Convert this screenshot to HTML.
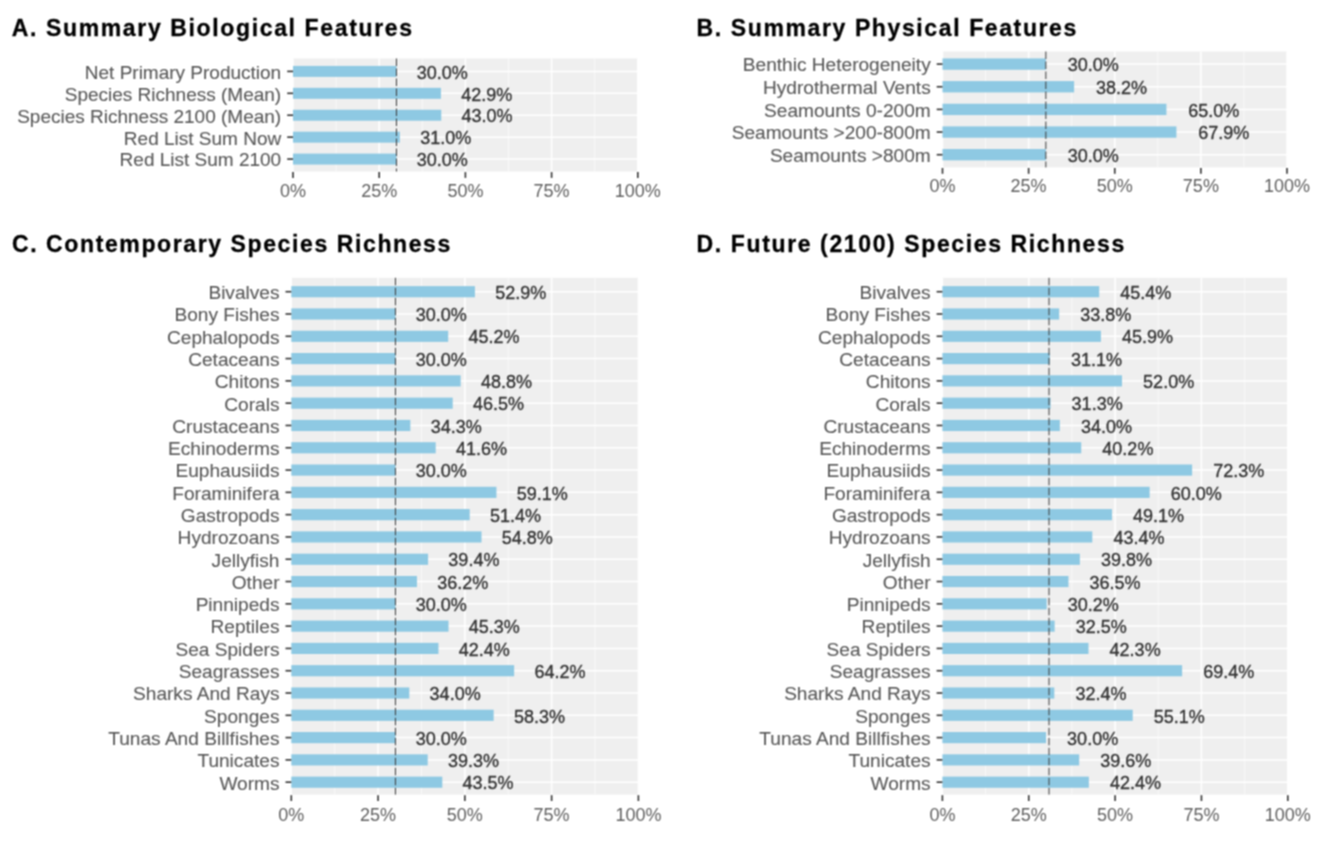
<!DOCTYPE html>
<html><head><meta charset="utf-8"><title>Summary Features</title>
<style>
html,body{margin:0;padding:0;background:#fff;}
body{width:1322px;height:844px;overflow:hidden;}
svg{display:block;}
text{font-family:"Liberation Sans", Arial, Helvetica, sans-serif;}
.tt{font-size:23px;font-weight:bold;fill:#000;stroke:#000;stroke-width:0.3px;}
.yl{font-size:19.1px;fill:#585858;text-anchor:end;stroke:#585858;stroke-width:0.1px;}
.xl{font-size:18.0px;fill:#5f5f5f;text-anchor:middle;}
.vl{font-size:18.0px;fill:#333333;stroke:#333333;stroke-width:0.35px;}
</style></head>
<body>
<svg width="1322" height="844" viewBox="0 0 1322 844">
<defs><filter id="soft" x="0" y="0" width="1322" height="844" filterUnits="userSpaceOnUse" color-interpolation-filters="sRGB"><feConvolveMatrix order="3" kernelMatrix="1 2 1 2 4 2 1 2 1" divisor="16" edgeMode="duplicate"/></filter></defs>
<g filter="url(#soft)">
<rect width="1322" height="844" fill="#fff"/>
<text class="tt" x="11.75" y="36.2" textLength="400.2" lengthAdjust="spacing">A. Summary Biological Features</text>
<rect x="293" y="58.5" width="344.8" height="113" fill="#EFEFEF"/>
<line x1="336.1" y1="58.5" x2="336.1" y2="171.5" stroke="#fff" stroke-width="0.6"/>
<line x1="422.3" y1="58.5" x2="422.3" y2="171.5" stroke="#fff" stroke-width="0.6"/>
<line x1="508.5" y1="58.5" x2="508.5" y2="171.5" stroke="#fff" stroke-width="0.6"/>
<line x1="594.7" y1="58.5" x2="594.7" y2="171.5" stroke="#fff" stroke-width="0.6"/>
<line x1="293" y1="58.5" x2="293" y2="171.5" stroke="#fff" stroke-width="1.5"/>
<line x1="379.2" y1="58.5" x2="379.2" y2="171.5" stroke="#fff" stroke-width="1.5"/>
<line x1="465.4" y1="58.5" x2="465.4" y2="171.5" stroke="#fff" stroke-width="1.5"/>
<line x1="551.6" y1="58.5" x2="551.6" y2="171.5" stroke="#fff" stroke-width="1.5"/>
<line x1="637.8" y1="58.5" x2="637.8" y2="171.5" stroke="#fff" stroke-width="1.5"/>
<line x1="293" y1="71.4" x2="637.8" y2="71.4" stroke="#fff" stroke-width="1.5"/>
<line x1="293" y1="93.32" x2="637.8" y2="93.32" stroke="#fff" stroke-width="1.5"/>
<line x1="293" y1="115.24" x2="637.8" y2="115.24" stroke="#fff" stroke-width="1.5"/>
<line x1="293" y1="137.16" x2="637.8" y2="137.16" stroke="#fff" stroke-width="1.5"/>
<line x1="293" y1="159.08" x2="637.8" y2="159.08" stroke="#fff" stroke-width="1.5"/>
<rect x="293" y="65.92" width="103.44" height="10.96" fill="#8EC9E3"/>
<rect x="293" y="87.84" width="147.92" height="10.96" fill="#8EC9E3"/>
<rect x="293" y="109.76" width="148.26" height="10.96" fill="#8EC9E3"/>
<rect x="293" y="131.68" width="106.89" height="10.96" fill="#8EC9E3"/>
<rect x="293" y="153.6" width="103.44" height="10.96" fill="#8EC9E3"/>
<line x1="396.44" y1="58.5" x2="396.44" y2="171.5" stroke="#3a3a3a" stroke-width="1.0" stroke-dasharray="7.5 2.5"/>
<text class="vl" x="416.74" y="78.6">30.0%</text>
<text class="yl" x="281.2" y="78.75" style="font-size:19.0px">Net Primary Production</text>
<line x1="287.2" y1="71.4" x2="293" y2="71.4" stroke="#333333" stroke-width="1.6"/>
<text class="vl" x="461.22" y="100.52">42.9%</text>
<text class="yl" x="281.2" y="100.67" style="font-size:19.0px">Species Richness (Mean)</text>
<line x1="287.2" y1="93.32" x2="293" y2="93.32" stroke="#333333" stroke-width="1.6"/>
<text class="vl" x="461.56" y="122.44">43.0%</text>
<text class="yl" x="281.2" y="122.59" style="font-size:19.0px">Species Richness 2100 (Mean)</text>
<line x1="287.2" y1="115.24" x2="293" y2="115.24" stroke="#333333" stroke-width="1.6"/>
<text class="vl" x="420.19" y="144.36">31.0%</text>
<text class="yl" x="281.2" y="144.51" style="font-size:19.0px">Red List Sum Now</text>
<line x1="287.2" y1="137.16" x2="293" y2="137.16" stroke="#333333" stroke-width="1.6"/>
<text class="vl" x="416.74" y="166.28">30.0%</text>
<text class="yl" x="281.2" y="166.43" style="font-size:19.0px">Red List Sum 2100</text>
<line x1="287.2" y1="159.08" x2="293" y2="159.08" stroke="#333333" stroke-width="1.6"/>
<line x1="293" y1="172.1" x2="293" y2="177.9" stroke="#333333" stroke-width="1.6"/>
<text class="xl" x="293" y="196.8">0%</text>
<line x1="379.2" y1="172.1" x2="379.2" y2="177.9" stroke="#333333" stroke-width="1.6"/>
<text class="xl" x="379.2" y="196.8">25%</text>
<line x1="465.4" y1="172.1" x2="465.4" y2="177.9" stroke="#333333" stroke-width="1.6"/>
<text class="xl" x="465.4" y="196.8">50%</text>
<line x1="551.6" y1="172.1" x2="551.6" y2="177.9" stroke="#333333" stroke-width="1.6"/>
<text class="xl" x="551.6" y="196.8">75%</text>
<line x1="637.8" y1="172.1" x2="637.8" y2="177.9" stroke="#333333" stroke-width="1.6"/>
<text class="xl" x="637.8" y="196.8">100%</text>
<text class="tt" x="696.6" y="36.1" textLength="379.7" lengthAdjust="spacing">B. Summary Physical Features</text>
<rect x="942.5" y="51.5" width="344.5" height="115.9" fill="#EFEFEF"/>
<line x1="985.56" y1="51.5" x2="985.56" y2="167.4" stroke="#fff" stroke-width="0.6"/>
<line x1="1071.69" y1="51.5" x2="1071.69" y2="167.4" stroke="#fff" stroke-width="0.6"/>
<line x1="1157.81" y1="51.5" x2="1157.81" y2="167.4" stroke="#fff" stroke-width="0.6"/>
<line x1="1243.94" y1="51.5" x2="1243.94" y2="167.4" stroke="#fff" stroke-width="0.6"/>
<line x1="942.5" y1="51.5" x2="942.5" y2="167.4" stroke="#fff" stroke-width="1.5"/>
<line x1="1028.62" y1="51.5" x2="1028.62" y2="167.4" stroke="#fff" stroke-width="1.5"/>
<line x1="1114.75" y1="51.5" x2="1114.75" y2="167.4" stroke="#fff" stroke-width="1.5"/>
<line x1="1200.88" y1="51.5" x2="1200.88" y2="167.4" stroke="#fff" stroke-width="1.5"/>
<line x1="1287" y1="51.5" x2="1287" y2="167.4" stroke="#fff" stroke-width="1.5"/>
<line x1="942.5" y1="64.1" x2="1287" y2="64.1" stroke="#fff" stroke-width="1.5"/>
<line x1="942.5" y1="86.75" x2="1287" y2="86.75" stroke="#fff" stroke-width="1.5"/>
<line x1="942.5" y1="109.4" x2="1287" y2="109.4" stroke="#fff" stroke-width="1.5"/>
<line x1="942.5" y1="132.05" x2="1287" y2="132.05" stroke="#fff" stroke-width="1.5"/>
<line x1="942.5" y1="154.7" x2="1287" y2="154.7" stroke="#fff" stroke-width="1.5"/>
<rect x="942.5" y="58.44" width="103.35" height="11.32" fill="#8EC9E3"/>
<rect x="942.5" y="81.09" width="131.6" height="11.32" fill="#8EC9E3"/>
<rect x="942.5" y="103.74" width="223.93" height="11.32" fill="#8EC9E3"/>
<rect x="942.5" y="126.39" width="233.92" height="11.32" fill="#8EC9E3"/>
<rect x="942.5" y="149.04" width="103.35" height="11.32" fill="#8EC9E3"/>
<line x1="1045.85" y1="51.5" x2="1045.85" y2="167.4" stroke="#3a3a3a" stroke-width="1.0" stroke-dasharray="7.5 2.5"/>
<text class="vl" x="1067.65" y="71.3">30.0%</text>
<text class="yl" x="930.7" y="71.45">Benthic Heterogeneity</text>
<line x1="936.7" y1="64.1" x2="942.5" y2="64.1" stroke="#333333" stroke-width="1.6"/>
<text class="vl" x="1095.9" y="93.95">38.2%</text>
<text class="yl" x="930.7" y="94.1">Hydrothermal Vents</text>
<line x1="936.7" y1="86.75" x2="942.5" y2="86.75" stroke="#333333" stroke-width="1.6"/>
<text class="vl" x="1188.22" y="116.6">65.0%</text>
<text class="yl" x="930.7" y="116.75">Seamounts 0-200m</text>
<line x1="936.7" y1="109.4" x2="942.5" y2="109.4" stroke="#333333" stroke-width="1.6"/>
<text class="vl" x="1198.22" y="139.25">67.9%</text>
<text class="yl" x="930.7" y="139.4">Seamounts &gt;200-800m</text>
<line x1="936.7" y1="132.05" x2="942.5" y2="132.05" stroke="#333333" stroke-width="1.6"/>
<text class="vl" x="1067.65" y="161.9">30.0%</text>
<text class="yl" x="930.7" y="162.05">Seamounts &gt;800m</text>
<line x1="936.7" y1="154.7" x2="942.5" y2="154.7" stroke="#333333" stroke-width="1.6"/>
<line x1="942.5" y1="168" x2="942.5" y2="173.8" stroke="#333333" stroke-width="1.6"/>
<text class="xl" x="942.5" y="192">0%</text>
<line x1="1028.62" y1="168" x2="1028.62" y2="173.8" stroke="#333333" stroke-width="1.6"/>
<text class="xl" x="1028.62" y="192">25%</text>
<line x1="1114.75" y1="168" x2="1114.75" y2="173.8" stroke="#333333" stroke-width="1.6"/>
<text class="xl" x="1114.75" y="192">50%</text>
<line x1="1200.88" y1="168" x2="1200.88" y2="173.8" stroke="#333333" stroke-width="1.6"/>
<text class="xl" x="1200.88" y="192">75%</text>
<line x1="1287" y1="168" x2="1287" y2="173.8" stroke="#333333" stroke-width="1.6"/>
<text class="xl" x="1287" y="192">100%</text>
<text class="tt" x="11.9" y="251.5" textLength="438.4" lengthAdjust="spacing">C. Contemporary Species Richness</text>
<rect x="291.3" y="277.8" width="347.1" height="516.8" fill="#EFEFEF"/>
<line x1="334.69" y1="277.8" x2="334.69" y2="794.6" stroke="#fff" stroke-width="0.6"/>
<line x1="421.46" y1="277.8" x2="421.46" y2="794.6" stroke="#fff" stroke-width="0.6"/>
<line x1="508.24" y1="277.8" x2="508.24" y2="794.6" stroke="#fff" stroke-width="0.6"/>
<line x1="595.01" y1="277.8" x2="595.01" y2="794.6" stroke="#fff" stroke-width="0.6"/>
<line x1="291.3" y1="277.8" x2="291.3" y2="794.6" stroke="#fff" stroke-width="1.5"/>
<line x1="378.07" y1="277.8" x2="378.07" y2="794.6" stroke="#fff" stroke-width="1.5"/>
<line x1="464.85" y1="277.8" x2="464.85" y2="794.6" stroke="#fff" stroke-width="1.5"/>
<line x1="551.62" y1="277.8" x2="551.62" y2="794.6" stroke="#fff" stroke-width="1.5"/>
<line x1="638.4" y1="277.8" x2="638.4" y2="794.6" stroke="#fff" stroke-width="1.5"/>
<line x1="291.3" y1="291.7" x2="638.4" y2="291.7" stroke="#fff" stroke-width="1.5"/>
<line x1="291.3" y1="314" x2="638.4" y2="314" stroke="#fff" stroke-width="1.5"/>
<line x1="291.3" y1="336.29" x2="638.4" y2="336.29" stroke="#fff" stroke-width="1.5"/>
<line x1="291.3" y1="358.58" x2="638.4" y2="358.58" stroke="#fff" stroke-width="1.5"/>
<line x1="291.3" y1="380.88" x2="638.4" y2="380.88" stroke="#fff" stroke-width="1.5"/>
<line x1="291.3" y1="403.18" x2="638.4" y2="403.18" stroke="#fff" stroke-width="1.5"/>
<line x1="291.3" y1="425.47" x2="638.4" y2="425.47" stroke="#fff" stroke-width="1.5"/>
<line x1="291.3" y1="447.76" x2="638.4" y2="447.76" stroke="#fff" stroke-width="1.5"/>
<line x1="291.3" y1="470.06" x2="638.4" y2="470.06" stroke="#fff" stroke-width="1.5"/>
<line x1="291.3" y1="492.36" x2="638.4" y2="492.36" stroke="#fff" stroke-width="1.5"/>
<line x1="291.3" y1="514.65" x2="638.4" y2="514.65" stroke="#fff" stroke-width="1.5"/>
<line x1="291.3" y1="536.94" x2="638.4" y2="536.94" stroke="#fff" stroke-width="1.5"/>
<line x1="291.3" y1="559.24" x2="638.4" y2="559.24" stroke="#fff" stroke-width="1.5"/>
<line x1="291.3" y1="581.54" x2="638.4" y2="581.54" stroke="#fff" stroke-width="1.5"/>
<line x1="291.3" y1="603.83" x2="638.4" y2="603.83" stroke="#fff" stroke-width="1.5"/>
<line x1="291.3" y1="626.12" x2="638.4" y2="626.12" stroke="#fff" stroke-width="1.5"/>
<line x1="291.3" y1="648.42" x2="638.4" y2="648.42" stroke="#fff" stroke-width="1.5"/>
<line x1="291.3" y1="670.72" x2="638.4" y2="670.72" stroke="#fff" stroke-width="1.5"/>
<line x1="291.3" y1="693.01" x2="638.4" y2="693.01" stroke="#fff" stroke-width="1.5"/>
<line x1="291.3" y1="715.31" x2="638.4" y2="715.31" stroke="#fff" stroke-width="1.5"/>
<line x1="291.3" y1="737.6" x2="638.4" y2="737.6" stroke="#fff" stroke-width="1.5"/>
<line x1="291.3" y1="759.89" x2="638.4" y2="759.89" stroke="#fff" stroke-width="1.5"/>
<line x1="291.3" y1="782.19" x2="638.4" y2="782.19" stroke="#fff" stroke-width="1.5"/>
<rect x="291.3" y="286.13" width="183.62" height="11.15" fill="#8EC9E3"/>
<rect x="291.3" y="308.42" width="104.13" height="11.15" fill="#8EC9E3"/>
<rect x="291.3" y="330.72" width="156.89" height="11.15" fill="#8EC9E3"/>
<rect x="291.3" y="353.01" width="104.13" height="11.15" fill="#8EC9E3"/>
<rect x="291.3" y="375.31" width="169.38" height="11.15" fill="#8EC9E3"/>
<rect x="291.3" y="397.6" width="161.4" height="11.15" fill="#8EC9E3"/>
<rect x="291.3" y="419.9" width="119.06" height="11.15" fill="#8EC9E3"/>
<rect x="291.3" y="442.19" width="144.39" height="11.15" fill="#8EC9E3"/>
<rect x="291.3" y="464.49" width="104.13" height="11.15" fill="#8EC9E3"/>
<rect x="291.3" y="486.78" width="205.14" height="11.15" fill="#8EC9E3"/>
<rect x="291.3" y="509.08" width="178.41" height="11.15" fill="#8EC9E3"/>
<rect x="291.3" y="531.37" width="190.21" height="11.15" fill="#8EC9E3"/>
<rect x="291.3" y="553.67" width="136.76" height="11.15" fill="#8EC9E3"/>
<rect x="291.3" y="575.96" width="125.65" height="11.15" fill="#8EC9E3"/>
<rect x="291.3" y="598.26" width="104.13" height="11.15" fill="#8EC9E3"/>
<rect x="291.3" y="620.55" width="157.24" height="11.15" fill="#8EC9E3"/>
<rect x="291.3" y="642.85" width="147.17" height="11.15" fill="#8EC9E3"/>
<rect x="291.3" y="665.14" width="222.84" height="11.15" fill="#8EC9E3"/>
<rect x="291.3" y="687.44" width="118.01" height="11.15" fill="#8EC9E3"/>
<rect x="291.3" y="709.73" width="202.36" height="11.15" fill="#8EC9E3"/>
<rect x="291.3" y="732.03" width="104.13" height="11.15" fill="#8EC9E3"/>
<rect x="291.3" y="754.32" width="136.41" height="11.15" fill="#8EC9E3"/>
<rect x="291.3" y="776.62" width="150.99" height="11.15" fill="#8EC9E3"/>
<line x1="395.43" y1="277.8" x2="395.43" y2="794.6" stroke="#3a3a3a" stroke-width="1.0" stroke-dasharray="7.5 2.5"/>
<text class="vl" x="495.22" y="298.9">52.9%</text>
<text class="yl" x="279.5" y="299.05">Bivalves</text>
<line x1="285.5" y1="291.7" x2="291.3" y2="291.7" stroke="#333333" stroke-width="1.6"/>
<text class="vl" x="415.73" y="321.19">30.0%</text>
<text class="yl" x="279.5" y="321.35">Bony Fishes</text>
<line x1="285.5" y1="314" x2="291.3" y2="314" stroke="#333333" stroke-width="1.6"/>
<text class="vl" x="468.49" y="343.49">45.2%</text>
<text class="yl" x="279.5" y="343.64">Cephalopods</text>
<line x1="285.5" y1="336.29" x2="291.3" y2="336.29" stroke="#333333" stroke-width="1.6"/>
<text class="vl" x="415.73" y="365.78">30.0%</text>
<text class="yl" x="279.5" y="365.94">Cetaceans</text>
<line x1="285.5" y1="358.58" x2="291.3" y2="358.58" stroke="#333333" stroke-width="1.6"/>
<text class="vl" x="480.98" y="388.08">48.8%</text>
<text class="yl" x="279.5" y="388.23">Chitons</text>
<line x1="285.5" y1="380.88" x2="291.3" y2="380.88" stroke="#333333" stroke-width="1.6"/>
<text class="vl" x="473" y="410.38">46.5%</text>
<text class="yl" x="279.5" y="410.53">Corals</text>
<line x1="285.5" y1="403.18" x2="291.3" y2="403.18" stroke="#333333" stroke-width="1.6"/>
<text class="vl" x="430.66" y="432.67">34.3%</text>
<text class="yl" x="279.5" y="432.82">Crustaceans</text>
<line x1="285.5" y1="425.47" x2="291.3" y2="425.47" stroke="#333333" stroke-width="1.6"/>
<text class="vl" x="455.99" y="454.96">41.6%</text>
<text class="yl" x="279.5" y="455.12">Echinoderms</text>
<line x1="285.5" y1="447.76" x2="291.3" y2="447.76" stroke="#333333" stroke-width="1.6"/>
<text class="vl" x="415.73" y="477.26">30.0%</text>
<text class="yl" x="279.5" y="477.41">Euphausiids</text>
<line x1="285.5" y1="470.06" x2="291.3" y2="470.06" stroke="#333333" stroke-width="1.6"/>
<text class="vl" x="516.74" y="499.56">59.1%</text>
<text class="yl" x="279.5" y="499.71">Foraminifera</text>
<line x1="285.5" y1="492.36" x2="291.3" y2="492.36" stroke="#333333" stroke-width="1.6"/>
<text class="vl" x="490.01" y="521.85">51.4%</text>
<text class="yl" x="279.5" y="522">Gastropods</text>
<line x1="285.5" y1="514.65" x2="291.3" y2="514.65" stroke="#333333" stroke-width="1.6"/>
<text class="vl" x="501.81" y="544.14">54.8%</text>
<text class="yl" x="279.5" y="544.29">Hydrozoans</text>
<line x1="285.5" y1="536.94" x2="291.3" y2="536.94" stroke="#333333" stroke-width="1.6"/>
<text class="vl" x="448.36" y="566.44">39.4%</text>
<text class="yl" x="279.5" y="566.59">Jellyfish</text>
<line x1="285.5" y1="559.24" x2="291.3" y2="559.24" stroke="#333333" stroke-width="1.6"/>
<text class="vl" x="437.25" y="588.74">36.2%</text>
<text class="yl" x="279.5" y="588.89">Other</text>
<line x1="285.5" y1="581.54" x2="291.3" y2="581.54" stroke="#333333" stroke-width="1.6"/>
<text class="vl" x="415.73" y="611.03">30.0%</text>
<text class="yl" x="279.5" y="611.18">Pinnipeds</text>
<line x1="285.5" y1="603.83" x2="291.3" y2="603.83" stroke="#333333" stroke-width="1.6"/>
<text class="vl" x="468.84" y="633.33">45.3%</text>
<text class="yl" x="279.5" y="633.48">Reptiles</text>
<line x1="285.5" y1="626.12" x2="291.3" y2="626.12" stroke="#333333" stroke-width="1.6"/>
<text class="vl" x="458.77" y="655.62">42.4%</text>
<text class="yl" x="279.5" y="655.77">Sea Spiders</text>
<line x1="285.5" y1="648.42" x2="291.3" y2="648.42" stroke="#333333" stroke-width="1.6"/>
<text class="vl" x="534.44" y="677.92">64.2%</text>
<text class="yl" x="279.5" y="678.07">Seagrasses</text>
<line x1="285.5" y1="670.72" x2="291.3" y2="670.72" stroke="#333333" stroke-width="1.6"/>
<text class="vl" x="429.61" y="700.21">34.0%</text>
<text class="yl" x="279.5" y="700.36">Sharks And Rays</text>
<line x1="285.5" y1="693.01" x2="291.3" y2="693.01" stroke="#333333" stroke-width="1.6"/>
<text class="vl" x="513.96" y="722.51">58.3%</text>
<text class="yl" x="279.5" y="722.66">Sponges</text>
<line x1="285.5" y1="715.31" x2="291.3" y2="715.31" stroke="#333333" stroke-width="1.6"/>
<text class="vl" x="415.73" y="744.8">30.0%</text>
<text class="yl" x="279.5" y="744.95">Tunas And Billfishes</text>
<line x1="285.5" y1="737.6" x2="291.3" y2="737.6" stroke="#333333" stroke-width="1.6"/>
<text class="vl" x="448.01" y="767.1">39.3%</text>
<text class="yl" x="279.5" y="767.25">Tunicates</text>
<line x1="285.5" y1="759.89" x2="291.3" y2="759.89" stroke="#333333" stroke-width="1.6"/>
<text class="vl" x="462.59" y="789.39">43.5%</text>
<text class="yl" x="279.5" y="789.54">Worms</text>
<line x1="285.5" y1="782.19" x2="291.3" y2="782.19" stroke="#333333" stroke-width="1.6"/>
<line x1="291.3" y1="795.2" x2="291.3" y2="801" stroke="#333333" stroke-width="1.6"/>
<text class="xl" x="291.3" y="820.9">0%</text>
<line x1="378.07" y1="795.2" x2="378.07" y2="801" stroke="#333333" stroke-width="1.6"/>
<text class="xl" x="378.07" y="820.9">25%</text>
<line x1="464.85" y1="795.2" x2="464.85" y2="801" stroke="#333333" stroke-width="1.6"/>
<text class="xl" x="464.85" y="820.9">50%</text>
<line x1="551.62" y1="795.2" x2="551.62" y2="801" stroke="#333333" stroke-width="1.6"/>
<text class="xl" x="551.62" y="820.9">75%</text>
<line x1="638.4" y1="795.2" x2="638.4" y2="801" stroke="#333333" stroke-width="1.6"/>
<text class="xl" x="638.4" y="820.9">100%</text>
<text class="tt" x="696.6" y="251.5" textLength="427.6" lengthAdjust="spacing">D. Future (2100) Species Richness</text>
<rect x="942.4" y="277.8" width="345.4" height="516.8" fill="#EFEFEF"/>
<line x1="985.57" y1="277.8" x2="985.57" y2="794.6" stroke="#fff" stroke-width="0.6"/>
<line x1="1071.92" y1="277.8" x2="1071.92" y2="794.6" stroke="#fff" stroke-width="0.6"/>
<line x1="1158.28" y1="277.8" x2="1158.28" y2="794.6" stroke="#fff" stroke-width="0.6"/>
<line x1="1244.62" y1="277.8" x2="1244.62" y2="794.6" stroke="#fff" stroke-width="0.6"/>
<line x1="942.4" y1="277.8" x2="942.4" y2="794.6" stroke="#fff" stroke-width="1.5"/>
<line x1="1028.75" y1="277.8" x2="1028.75" y2="794.6" stroke="#fff" stroke-width="1.5"/>
<line x1="1115.1" y1="277.8" x2="1115.1" y2="794.6" stroke="#fff" stroke-width="1.5"/>
<line x1="1201.45" y1="277.8" x2="1201.45" y2="794.6" stroke="#fff" stroke-width="1.5"/>
<line x1="1287.8" y1="277.8" x2="1287.8" y2="794.6" stroke="#fff" stroke-width="1.5"/>
<line x1="942.4" y1="291.7" x2="1287.8" y2="291.7" stroke="#fff" stroke-width="1.5"/>
<line x1="942.4" y1="314" x2="1287.8" y2="314" stroke="#fff" stroke-width="1.5"/>
<line x1="942.4" y1="336.29" x2="1287.8" y2="336.29" stroke="#fff" stroke-width="1.5"/>
<line x1="942.4" y1="358.58" x2="1287.8" y2="358.58" stroke="#fff" stroke-width="1.5"/>
<line x1="942.4" y1="380.88" x2="1287.8" y2="380.88" stroke="#fff" stroke-width="1.5"/>
<line x1="942.4" y1="403.18" x2="1287.8" y2="403.18" stroke="#fff" stroke-width="1.5"/>
<line x1="942.4" y1="425.47" x2="1287.8" y2="425.47" stroke="#fff" stroke-width="1.5"/>
<line x1="942.4" y1="447.76" x2="1287.8" y2="447.76" stroke="#fff" stroke-width="1.5"/>
<line x1="942.4" y1="470.06" x2="1287.8" y2="470.06" stroke="#fff" stroke-width="1.5"/>
<line x1="942.4" y1="492.36" x2="1287.8" y2="492.36" stroke="#fff" stroke-width="1.5"/>
<line x1="942.4" y1="514.65" x2="1287.8" y2="514.65" stroke="#fff" stroke-width="1.5"/>
<line x1="942.4" y1="536.94" x2="1287.8" y2="536.94" stroke="#fff" stroke-width="1.5"/>
<line x1="942.4" y1="559.24" x2="1287.8" y2="559.24" stroke="#fff" stroke-width="1.5"/>
<line x1="942.4" y1="581.54" x2="1287.8" y2="581.54" stroke="#fff" stroke-width="1.5"/>
<line x1="942.4" y1="603.83" x2="1287.8" y2="603.83" stroke="#fff" stroke-width="1.5"/>
<line x1="942.4" y1="626.12" x2="1287.8" y2="626.12" stroke="#fff" stroke-width="1.5"/>
<line x1="942.4" y1="648.42" x2="1287.8" y2="648.42" stroke="#fff" stroke-width="1.5"/>
<line x1="942.4" y1="670.72" x2="1287.8" y2="670.72" stroke="#fff" stroke-width="1.5"/>
<line x1="942.4" y1="693.01" x2="1287.8" y2="693.01" stroke="#fff" stroke-width="1.5"/>
<line x1="942.4" y1="715.31" x2="1287.8" y2="715.31" stroke="#fff" stroke-width="1.5"/>
<line x1="942.4" y1="737.6" x2="1287.8" y2="737.6" stroke="#fff" stroke-width="1.5"/>
<line x1="942.4" y1="759.89" x2="1287.8" y2="759.89" stroke="#fff" stroke-width="1.5"/>
<line x1="942.4" y1="782.19" x2="1287.8" y2="782.19" stroke="#fff" stroke-width="1.5"/>
<rect x="942.4" y="286.13" width="156.81" height="11.15" fill="#8EC9E3"/>
<rect x="942.4" y="308.42" width="116.75" height="11.15" fill="#8EC9E3"/>
<rect x="942.4" y="330.72" width="158.54" height="11.15" fill="#8EC9E3"/>
<rect x="942.4" y="353.01" width="107.42" height="11.15" fill="#8EC9E3"/>
<rect x="942.4" y="375.31" width="179.61" height="11.15" fill="#8EC9E3"/>
<rect x="942.4" y="397.6" width="108.11" height="11.15" fill="#8EC9E3"/>
<rect x="942.4" y="419.9" width="117.44" height="11.15" fill="#8EC9E3"/>
<rect x="942.4" y="442.19" width="138.85" height="11.15" fill="#8EC9E3"/>
<rect x="942.4" y="464.49" width="249.72" height="11.15" fill="#8EC9E3"/>
<rect x="942.4" y="486.78" width="207.24" height="11.15" fill="#8EC9E3"/>
<rect x="942.4" y="509.08" width="169.59" height="11.15" fill="#8EC9E3"/>
<rect x="942.4" y="531.37" width="149.9" height="11.15" fill="#8EC9E3"/>
<rect x="942.4" y="553.67" width="137.47" height="11.15" fill="#8EC9E3"/>
<rect x="942.4" y="575.96" width="126.07" height="11.15" fill="#8EC9E3"/>
<rect x="942.4" y="598.26" width="104.31" height="11.15" fill="#8EC9E3"/>
<rect x="942.4" y="620.55" width="112.25" height="11.15" fill="#8EC9E3"/>
<rect x="942.4" y="642.85" width="146.1" height="11.15" fill="#8EC9E3"/>
<rect x="942.4" y="665.14" width="239.71" height="11.15" fill="#8EC9E3"/>
<rect x="942.4" y="687.44" width="111.91" height="11.15" fill="#8EC9E3"/>
<rect x="942.4" y="709.73" width="190.32" height="11.15" fill="#8EC9E3"/>
<rect x="942.4" y="732.03" width="103.62" height="11.15" fill="#8EC9E3"/>
<rect x="942.4" y="754.32" width="136.78" height="11.15" fill="#8EC9E3"/>
<rect x="942.4" y="776.62" width="146.45" height="11.15" fill="#8EC9E3"/>
<line x1="1049.02" y1="277.8" x2="1049.02" y2="794.6" stroke="#3a3a3a" stroke-width="1.0" stroke-dasharray="7.5 2.5"/>
<text class="vl" x="1120.31" y="298.9">45.4%</text>
<text class="yl" x="930.6" y="299.05">Bivalves</text>
<line x1="936.6" y1="291.7" x2="942.4" y2="291.7" stroke="#333333" stroke-width="1.6"/>
<text class="vl" x="1080.25" y="321.19">33.8%</text>
<text class="yl" x="930.6" y="321.35">Bony Fishes</text>
<line x1="936.6" y1="314" x2="942.4" y2="314" stroke="#333333" stroke-width="1.6"/>
<text class="vl" x="1122.04" y="343.49">45.9%</text>
<text class="yl" x="930.6" y="343.64">Cephalopods</text>
<line x1="936.6" y1="336.29" x2="942.4" y2="336.29" stroke="#333333" stroke-width="1.6"/>
<text class="vl" x="1070.92" y="365.78">31.1%</text>
<text class="yl" x="930.6" y="365.94">Cetaceans</text>
<line x1="936.6" y1="358.58" x2="942.4" y2="358.58" stroke="#333333" stroke-width="1.6"/>
<text class="vl" x="1143.11" y="388.08">52.0%</text>
<text class="yl" x="930.6" y="388.23">Chitons</text>
<line x1="936.6" y1="380.88" x2="942.4" y2="380.88" stroke="#333333" stroke-width="1.6"/>
<text class="vl" x="1071.61" y="410.38">31.3%</text>
<text class="yl" x="930.6" y="410.53">Corals</text>
<line x1="936.6" y1="403.18" x2="942.4" y2="403.18" stroke="#333333" stroke-width="1.6"/>
<text class="vl" x="1080.94" y="432.67">34.0%</text>
<text class="yl" x="930.6" y="432.82">Crustaceans</text>
<line x1="936.6" y1="425.47" x2="942.4" y2="425.47" stroke="#333333" stroke-width="1.6"/>
<text class="vl" x="1102.35" y="454.96">40.2%</text>
<text class="yl" x="930.6" y="455.12">Echinoderms</text>
<line x1="936.6" y1="447.76" x2="942.4" y2="447.76" stroke="#333333" stroke-width="1.6"/>
<text class="vl" x="1213.22" y="477.26">72.3%</text>
<text class="yl" x="930.6" y="477.41">Euphausiids</text>
<line x1="936.6" y1="470.06" x2="942.4" y2="470.06" stroke="#333333" stroke-width="1.6"/>
<text class="vl" x="1170.74" y="499.56">60.0%</text>
<text class="yl" x="930.6" y="499.71">Foraminifera</text>
<line x1="936.6" y1="492.36" x2="942.4" y2="492.36" stroke="#333333" stroke-width="1.6"/>
<text class="vl" x="1133.09" y="521.85">49.1%</text>
<text class="yl" x="930.6" y="522">Gastropods</text>
<line x1="936.6" y1="514.65" x2="942.4" y2="514.65" stroke="#333333" stroke-width="1.6"/>
<text class="vl" x="1113.4" y="544.14">43.4%</text>
<text class="yl" x="930.6" y="544.29">Hydrozoans</text>
<line x1="936.6" y1="536.94" x2="942.4" y2="536.94" stroke="#333333" stroke-width="1.6"/>
<text class="vl" x="1100.97" y="566.44">39.8%</text>
<text class="yl" x="930.6" y="566.59">Jellyfish</text>
<line x1="936.6" y1="559.24" x2="942.4" y2="559.24" stroke="#333333" stroke-width="1.6"/>
<text class="vl" x="1089.57" y="588.74">36.5%</text>
<text class="yl" x="930.6" y="588.89">Other</text>
<line x1="936.6" y1="581.54" x2="942.4" y2="581.54" stroke="#333333" stroke-width="1.6"/>
<text class="vl" x="1067.81" y="611.03">30.2%</text>
<text class="yl" x="930.6" y="611.18">Pinnipeds</text>
<line x1="936.6" y1="603.83" x2="942.4" y2="603.83" stroke="#333333" stroke-width="1.6"/>
<text class="vl" x="1075.75" y="633.33">32.5%</text>
<text class="yl" x="930.6" y="633.48">Reptiles</text>
<line x1="936.6" y1="626.12" x2="942.4" y2="626.12" stroke="#333333" stroke-width="1.6"/>
<text class="vl" x="1109.6" y="655.62">42.3%</text>
<text class="yl" x="930.6" y="655.77">Sea Spiders</text>
<line x1="936.6" y1="648.42" x2="942.4" y2="648.42" stroke="#333333" stroke-width="1.6"/>
<text class="vl" x="1203.21" y="677.92">69.4%</text>
<text class="yl" x="930.6" y="678.07">Seagrasses</text>
<line x1="936.6" y1="670.72" x2="942.4" y2="670.72" stroke="#333333" stroke-width="1.6"/>
<text class="vl" x="1075.41" y="700.21">32.4%</text>
<text class="yl" x="930.6" y="700.36">Sharks And Rays</text>
<line x1="936.6" y1="693.01" x2="942.4" y2="693.01" stroke="#333333" stroke-width="1.6"/>
<text class="vl" x="1153.82" y="722.51">55.1%</text>
<text class="yl" x="930.6" y="722.66">Sponges</text>
<line x1="936.6" y1="715.31" x2="942.4" y2="715.31" stroke="#333333" stroke-width="1.6"/>
<text class="vl" x="1067.12" y="744.8">30.0%</text>
<text class="yl" x="930.6" y="744.95">Tunas And Billfishes</text>
<line x1="936.6" y1="737.6" x2="942.4" y2="737.6" stroke="#333333" stroke-width="1.6"/>
<text class="vl" x="1100.28" y="767.1">39.6%</text>
<text class="yl" x="930.6" y="767.25">Tunicates</text>
<line x1="936.6" y1="759.89" x2="942.4" y2="759.89" stroke="#333333" stroke-width="1.6"/>
<text class="vl" x="1109.95" y="789.39">42.4%</text>
<text class="yl" x="930.6" y="789.54">Worms</text>
<line x1="936.6" y1="782.19" x2="942.4" y2="782.19" stroke="#333333" stroke-width="1.6"/>
<line x1="942.4" y1="795.2" x2="942.4" y2="801" stroke="#333333" stroke-width="1.6"/>
<text class="xl" x="942.4" y="820.9">0%</text>
<line x1="1028.75" y1="795.2" x2="1028.75" y2="801" stroke="#333333" stroke-width="1.6"/>
<text class="xl" x="1028.75" y="820.9">25%</text>
<line x1="1115.1" y1="795.2" x2="1115.1" y2="801" stroke="#333333" stroke-width="1.6"/>
<text class="xl" x="1115.1" y="820.9">50%</text>
<line x1="1201.45" y1="795.2" x2="1201.45" y2="801" stroke="#333333" stroke-width="1.6"/>
<text class="xl" x="1201.45" y="820.9">75%</text>
<line x1="1287.8" y1="795.2" x2="1287.8" y2="801" stroke="#333333" stroke-width="1.6"/>
<text class="xl" x="1287.8" y="820.9">100%</text>
</g>
</svg>
</body></html>
